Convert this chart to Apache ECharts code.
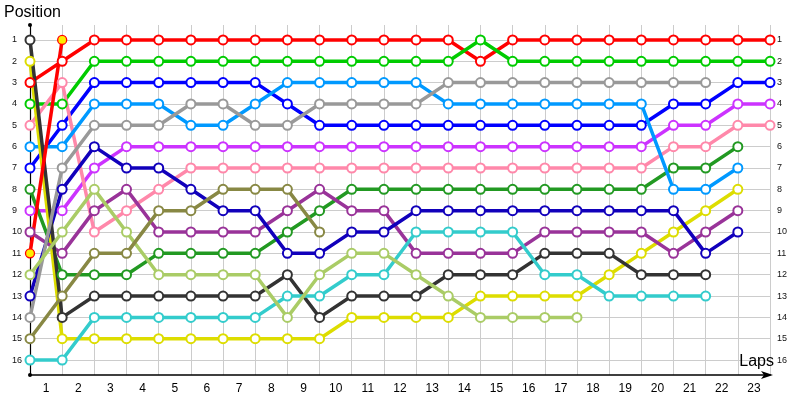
<!DOCTYPE html>
<html><head><meta charset="utf-8">
<script src="https://cdn.jsdelivr.net/npm/echarts@6/dist/echarts.min.js"></script>
<style>html,body{margin:0;padding:0;background:#fff}#c{width:800px;height:400px}</style>
</head><body><div id="c"></div>
<script>
// Lap labels (shown centred under each lap interval) and position ticks
const lapLabels = ['1','2','3','4','5','6','7','8','9','10','11','12','13','14','15','16','17','18','19','20','21','22','23'];
const positionTicks = [1,2,3,4,5,6,7,8,9,10,11,12,13,14,15,16];

// Position of each driver at lap 0 (grid), 1, 2, ...
const red        = [3,2,1,1,1,1,1,1,1,1,1,1,1,1,2,1,1,1,1,1,1,1,1,1];
const green      = [4,4,2,2,2,2,2,2,2,2,2,2,2,2,1,2,2,2,2,2,2,2,2,2];
const blue       = [7,5,3,3,3,3,3,3,4,5,5,5,5,5,5,5,5,5,5,5,4,4,3,3];
const magenta    = [9,9,7,6,6,6,6,6,6,6,6,6,6,6,6,6,6,6,6,6,5,5,4,4];
const pink       = [5,3,10,9,8,7,7,7,7,7,7,7,7,7,7,7,7,7,7,7,6,6,5,5];
const darkGreen  = [8,12,12,12,11,11,11,11,10,9,8,8,8,8,8,8,8,8,8,8,7,7,6];
const lightBlue  = [6,6,4,4,4,5,5,4,3,3,3,3,3,4,4,4,4,4,4,4,8,8,7];
const yellow     = [2,15,15,15,15,15,15,15,15,15,14,14,14,14,13,13,13,13,12,11,10,9,8];
const darkPurple = [10,11,9,8,10,10,10,10,9,8,9,9,11,11,11,11,10,10,10,10,11,10,9];
const navy       = [13,8,6,7,7,8,9,9,11,11,10,10,9,9,9,9,9,9,9,9,9,11,10];
const darkGray   = [1,14,13,13,13,13,13,13,12,14,13,13,13,12,12,12,11,11,11,12,12,12];
const gray       = [14,7,5,5,5,4,4,5,5,4,4,4,4,3,3,3,3,3,3,3,3,3];
const cyan       = [16,16,14,14,14,14,14,14,13,13,12,12,10,10,10,10,12,12,13,13,13,13];
const lightGreen = [12,10,8,10,12,12,12,12,14,12,11,11,12,13,14,14,14,14];
const olive      = [15,13,11,11,9,9,8,8,8,10];
const redStart   = [11,1];

const drivers = [
  {d: red, c: '#ff0000'},
  {d: green, c: '#00cc00'},
  {d: blue, c: '#0000ff'},
  {d: magenta, c: '#cc33ff'},
  {d: pink, c: '#ff88aa'},
  {d: darkGreen, c: '#229922'},
  {d: lightBlue, c: '#0099ff'},
  {d: yellow, c: '#dddd00'},
  {d: darkPurple, c: '#993399'},
  {d: navy, c: '#1100bb'},
  {d: darkGray, c: '#333333'},
  {d: gray, c: '#999999'},
  {d: cyan, c: '#33cccc'},
  {d: lightGreen, c: '#aacc66'},
  {d: olive, c: '#888844'}
];

const series = drivers.map(function (s) {
  return {
    type: 'line',
    data: s.d.map(function (v, i) { return [i, v]; }),
    symbol: 'emptyCircle',
    symbolSize: 9,
    lineStyle: {color: s.c, width: 3.5},
    itemStyle: {color: s.c, borderColor: s.c, borderWidth: 1.3},
    emphasis: {disabled: true}
  };
});
series.push({
  type: 'line',
  data: redStart.map(function (v, i) { return [i, v]; }),
  symbol: 'circle',
  symbolSize: 9,
  lineStyle: {color: '#ff0000', width: 3.5},
  itemStyle: {color: '#ffee00', borderColor: '#ff0000', borderWidth: 1.3},
  emphasis: {disabled: true}
});

const chart = echarts.init(document.getElementById('c'));
chart.setOption({
  animation: false,
  backgroundColor: '#ffffff',
  title: [
    {text: 'Position', left: 4, top: 5, padding: 0,
      textStyle: {fontFamily: 'Liberation Sans', fontSize: 16, fontWeight: 'normal', color: '#000'}},
    {text: 'Laps', right: 26, top: 354, padding: 0,
      textStyle: {fontFamily: 'Liberation Sans', fontSize: 16, fontWeight: 'normal', color: '#000'}}
  ],
  grid: {left: 30, right: 30, top: 25, bottom: 25, outerBoundsMode: 'none', containLabel: false},
  xAxis: [{
    type: 'value', min: 0, max: 23, interval: 1, position: 'bottom',
    axisLine: {show: true, onZero: false, symbol: ['none', 'arrow'], symbolSize: [6, 12], symbolOffset: [0, 3], lineStyle: {color: '#000', width: 1.5}},
    axisTick: {show: false}, axisLabel: {show: false},
    splitLine: {show: true, lineStyle: {color: '#cccccc', width: 1}}
  }, {
    type: 'category', data: lapLabels, boundaryGap: true, position: 'bottom',
    axisLine: {show: false}, axisTick: {show: false}, splitLine: {show: false},
    axisLabel: {show: true, margin: 8, fontFamily: 'Liberation Sans', fontSize: 12, color: '#000'}
  }],
  yAxis: [{
    type: 'value', inverse: true, min: 0.3, max: 16.7, position: 'left',
    axisLine: {show: true, onZero: false, symbol: ['circle', 'circle'], symbolSize: [4, 4], lineStyle: {color: '#000', width: 1.2}},
    axisTick: {show: false, customValues: positionTicks},
    axisLabel: {show: true, customValues: positionTicks, align: 'left', margin: 18, fontFamily: 'Liberation Sans', fontSize: 9, color: '#111'},
    splitLine: {show: true, lineStyle: {color: '#cccccc', width: 1}}
  }, {
    type: 'value', inverse: true, min: 0.3, max: 16.7, position: 'right',
    axisLine: {show: false}, axisTick: {show: false, customValues: positionTicks},
    axisLabel: {show: true, customValues: positionTicks, align: 'left', margin: 7, fontFamily: 'Liberation Sans', fontSize: 9, color: '#111'},
    splitLine: {show: false}
  }],
  series: series
});
</script></body></html>
